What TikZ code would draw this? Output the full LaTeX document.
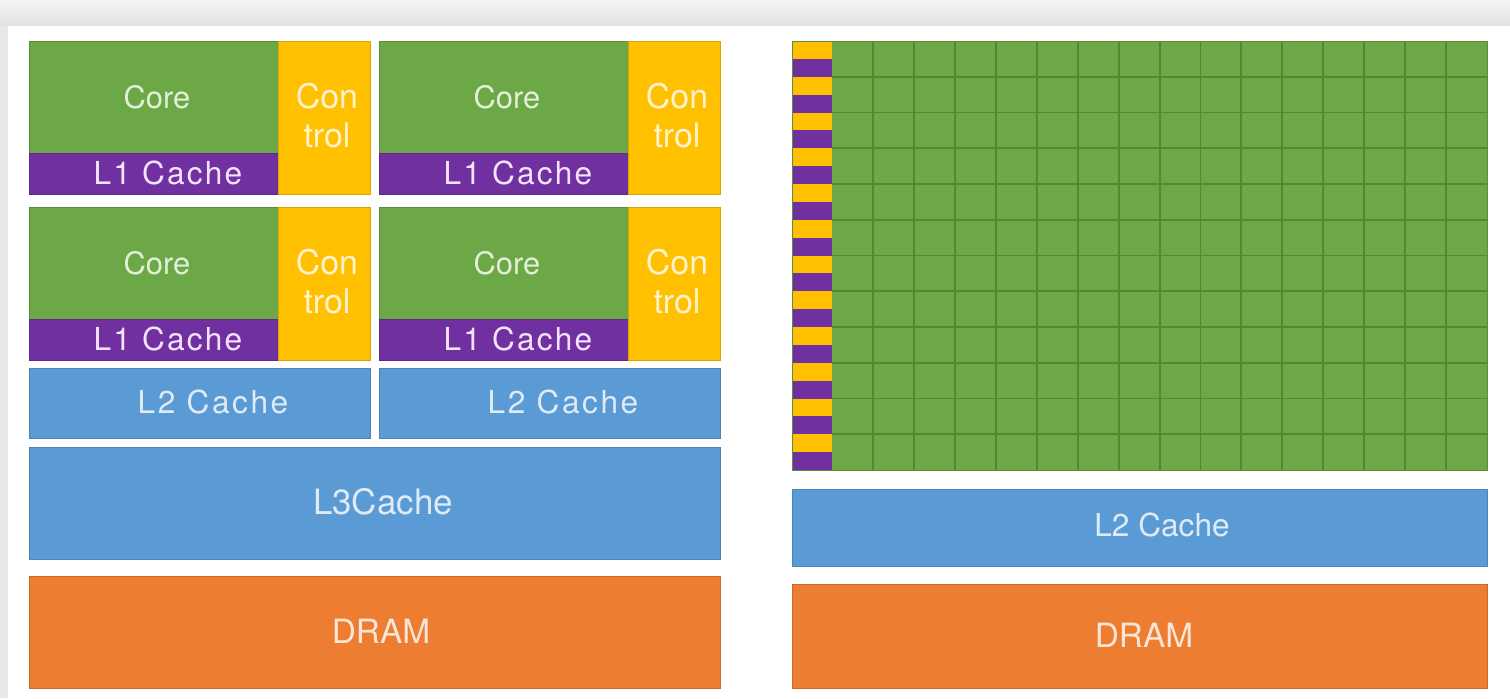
\documentclass[tikz,border=0pt]{standalone}
\usepackage{fontspec}
\setmainfont{TeX Gyre Heros}
\usepackage{tikz}

\definecolor{coregreen}{HTML}{6CA846}
\definecolor{gridgreen}{HTML}{4E8A2E}
\definecolor{cachepurple}{HTML}{7030A0}
\definecolor{ctrlyellow}{HTML}{FFC000}
\definecolor{cacheblue}{HTML}{5B9BD5}
\definecolor{dramorange}{HTML}{ED7D31}
\definecolor{coretext}{HTML}{E2F0D9}
\definecolor{lonetext}{HTML}{F3E2FB}
\definecolor{ctrltext}{HTML}{FFF2CC}
\definecolor{bluetext}{HTML}{DEEBF7}
\definecolor{dramtext}{HTML}{FBE5D6}

\begin{document}
\begin{tikzpicture}[x=0.02cm, y=-0.02cm,
    blk/.style={fill=#1, draw=#1!85!black, line width=0.5pt},
    lbl/.style={inner sep=0pt, text=#1},
    gridline/.style={draw=gridgreen, line width=1.1pt},
    fcore/.style={font=\fontsize{17.6}{20}\selectfont},
    flone/.style={font=\fontsize{18}{20}\selectfont\addfontfeature{LetterSpace=7}},
    fctrl/.style={font=\fontsize{19.3}{22.2}\selectfont, align=center},
    fltwo/.style={font=\fontsize{18}{20}\selectfont\addfontfeature{LetterSpace=8}},
    fplain/.style={font=\fontsize{18}{20}\selectfont},
    fbig/.style={font=\fontsize{19.9}{22}\selectfont},
    fdram/.style={font=\fontsize{19}{22}\selectfont}]
    \useasboundingbox (0,0) rectangle (1510,698);
    % page behind the slide
    \shade[top color=black!4, bottom color=black!12] (0,0) rectangle (1510,26);
    \fill[black!9] (0,26) rectangle (8,698);
    \fill[white] (8,26) rectangle (1510,698);

    % CPU: four cores with L1 and control
    \foreach \dx/\dy [count=\i] in {0/0, 350/0, 0/166, 350/166} {
        \draw[blk=coregreen] (29+\dx,41+\dy) rectangle (278+\dx,153+\dy);
        \draw[blk=cachepurple] (29+\dx,153+\dy) rectangle (278+\dx,194+\dy);
        \draw[blk=ctrlyellow] (278+\dx,41+\dy) rectangle (370+\dx,194+\dy);
        \node[lbl=coretext, fcore] (core\i) at (157+\dx,97+\dy) {Core};
        \node[lbl=lonetext, flone] (lone\i) at (168+\dx,173+\dy) {L1 Cache};
        \node[lbl=ctrltext, fctrl] (ctrl\i) at (327+\dx,116+\dy) {Con\\trol};
    }
    \foreach \dx [count=\i] in {0,350} {
        \draw[blk=cacheblue] (29+\dx,368) rectangle (370+\dx,438);
        \node[lbl=bluetext, fltwo] (ltwo\i) at (213+\dx,402) {L2 Cache};
    }
    \draw[blk=cacheblue] (29,447) rectangle (720,559);
    \node[lbl=bluetext, fbig] (lthree) at (383,502) {L3Cache};
    \draw[blk=dramorange] (29,576) rectangle (720,688);
    \node[lbl=dramtext, fdram] (cpudram) at (381,631) {DRAM};

    % GPU: many small cores
    \fill[coregreen] (832,41) rectangle (1487,470);
    \foreach \c in {1,...,15}
        \draw[gridline] (832+\c*40.94,41) -- ++(0,429);
    \foreach \r in {1,...,11}
        \draw[gridline] (832,41+\r*35.75) -- ++(655,0);
    \foreach \s in {0,...,11} {
        \fill[ctrlyellow] (792,41+\s*35.75) rectangle ++(40,17.875);
        \fill[cachepurple] (792,58.875+\s*35.75) rectangle ++(40,17.875);
    }
    \draw[coregreen!85!black, line width=0.5pt] (792,41) rectangle (1487,470);
    \draw[blk=cacheblue] (792,489) rectangle (1487,566);
    \node[lbl=bluetext, fplain] (gpultwo) at (1162,525) {L2 Cache};
    \draw[blk=dramorange] (792,584) rectangle (1487,688);
    \node[lbl=dramtext, fdram] (gpudram) at (1144,635) {DRAM};
\end{tikzpicture}
\end{document}
